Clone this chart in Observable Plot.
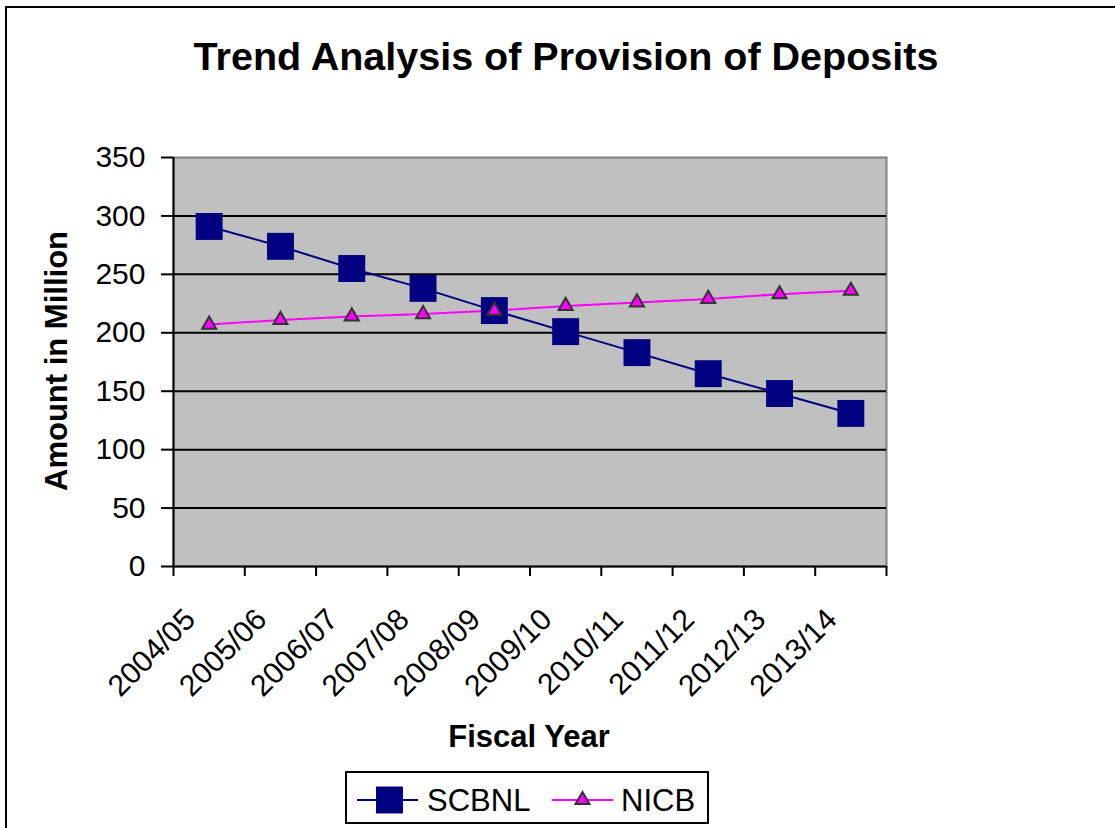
<!DOCTYPE html>
<html>
<head>
<meta charset="utf-8">
<script src="https://cdn.jsdelivr.net/npm/d3@7"></script>
<script src="https://cdn.jsdelivr.net/npm/@observablehq/plot@0.6"></script>
<style>
  html, body { margin: 0; padding: 0; background: #fff; }
  svg { font-family: "Liberation Sans", Arial, sans-serif; }
</style>
</head>
<body>
<div id="chart"></div>
<script>
const categories = ["2004/05","2005/06","2006/07","2007/08","2008/09","2009/10","2010/11","2011/12","2012/13","2013/14"];
const scbnl = [291, 274, 255, 238, 219, 201, 183, 165, 148, 131];
const nicb  = [207, 211, 214, 216, 219, 223, 226, 229, 233, 236];
const yTicks = [0, 50, 100, 150, 200, 250, 300, 350];
const gridValues = [50, 100, 150, 200, 250, 300];
const seriesNames = ["SCBNL", "NICB"];
const titleText = "Trend Analysis of Provision of Deposits";
const xTitle = "Fiscal Year";
const yTitle = "Amount in Million";

const bounds = d3.range(-0.5, categories.length, 1);
const rowsA = categories.map((c, i) => ({i, c, v: scbnl[i]}));
const rowsB = categories.map((c, i) => ({i, c, v: nicb[i]}));

const font = "Liberation Sans, Arial, sans-serif";
const triR = 5.2;
const sqR = 15.2;

const chart = Plot.plot({
  width: 1115,
  height: 828,
  marginLeft: 173,
  marginRight: 229,
  marginTop: 157,
  marginBottom: 262,
  style: {fontFamily: font, background: "#fff", overflow: "visible"},
  x: {type: "linear", domain: [-0.5, categories.length - 0.5]},
  y: {type: "linear", domain: [0, 350]},
  marks: [
    Plot.frame({fill: "#C0C0C0", stroke: "#808080", strokeWidth: 2}),
    Plot.ruleY(gridValues, {stroke: "#000", strokeWidth: 2}),
    Plot.ruleY([0], {stroke: "#000", strokeWidth: 2}),
    Plot.ruleX([-0.5], {stroke: "#000", strokeWidth: 2}),
    Plot.axisY({ticks: yTicks, tickSize: 12, tickPadding: 16, fontSize: 30, strokeWidth: 2, stroke: "#000", fill: "#000", label: null, tickFormat: d => String(d)}),
    Plot.axisX({ticks: bounds, tickSize: 10, strokeWidth: 2, stroke: "#000", label: null, tickFormat: () => ""}),
    Plot.text(categories, {x: (d, i) => i, frameAnchor: "bottom", text: d => d, rotate: -45, textAnchor: "end", lineAnchor: "middle", dx: -19, dy: 48, fontSize: 30, fill: "#000"}),
    Plot.line(rowsA, {x: "i", y: "v", stroke: "#000080", strokeWidth: 2}),
    Plot.line(rowsB, {x: "i", y: "v", stroke: "#FF00FF", strokeWidth: 2}),
    Plot.dot(rowsA, {x: "i", y: "v", symbol: "square", r: sqR, fill: "#000080", stroke: "none"}),
    Plot.dot(rowsB, {x: "i", y: "v", symbol: "triangle", r: triR, fill: "#FF00FF", stroke: "#333333", strokeWidth: 2})
  ]
});

document.getElementById("chart").appendChild(chart);

const svg = d3.select(chart);
// outer chart-area border
svg.insert("rect", ":first-child")
  .attr("x", 6).attr("y", 7).attr("width", 1200).attr("height", 900)
  .attr("fill", "#fff").attr("stroke", "#000").attr("stroke-width", 2);

svg.append("text")
  .attr("x", 566).attr("y", 70)
  .attr("text-anchor", "middle")
  .attr("font-family", font).attr("font-weight", "bold").attr("font-size", 39.5)
  .attr("fill", "#000")
  .text(titleText);

svg.append("text")
  .attr("x", 529).attr("y", 747)
  .attr("text-anchor", "middle")
  .attr("font-family", font).attr("font-weight", "bold").attr("font-size", 31)
  .attr("fill", "#000")
  .text(xTitle);

svg.append("text")
  .attr("transform", "translate(66.5,361) rotate(-90)")
  .attr("text-anchor", "middle")
  .attr("font-family", font).attr("font-weight", "bold").attr("font-size", 31)
  .attr("fill", "#000")
  .text(yTitle);

// legend
const lg = svg.append("g").attr("text-anchor", "start");
lg.append("rect").attr("x", 346).attr("y", 772).attr("width", 362).attr("height", 51)
  .attr("fill", "#fff").attr("stroke", "#000").attr("stroke-width", 2);
lg.append("line").attr("x1", 357).attr("x2", 418).attr("y1", 800).attr("y2", 800)
  .attr("stroke", "#000080").attr("stroke-width", 2);
lg.append("path").attr("transform", "translate(389.5,800)")
  .attr("d", d3.symbol(d3.symbolSquare, Math.PI * sqR * sqR)())
  .attr("fill", "#000080");
lg.append("text").attr("x", 427).attr("y", 811).attr("text-anchor", "start")
  .attr("font-family", font).attr("font-size", 31).attr("fill", "#000").text(seriesNames[0]);
lg.append("line").attr("x1", 552).attr("x2", 613).attr("y1", 800).attr("y2", 800)
  .attr("stroke", "#FF00FF").attr("stroke-width", 2);
lg.append("path").attr("transform", "translate(582.5,800)")
  .attr("d", d3.symbol(d3.symbolTriangle, Math.PI * triR * triR)())
  .attr("fill", "#FF00FF").attr("stroke", "#333333").attr("stroke-width", 2);
lg.append("text").attr("x", 621).attr("y", 811).attr("text-anchor", "start")
  .attr("font-family", font).attr("font-size", 31).attr("fill", "#000").text(seriesNames[1]);
</script>
</body>
</html>
